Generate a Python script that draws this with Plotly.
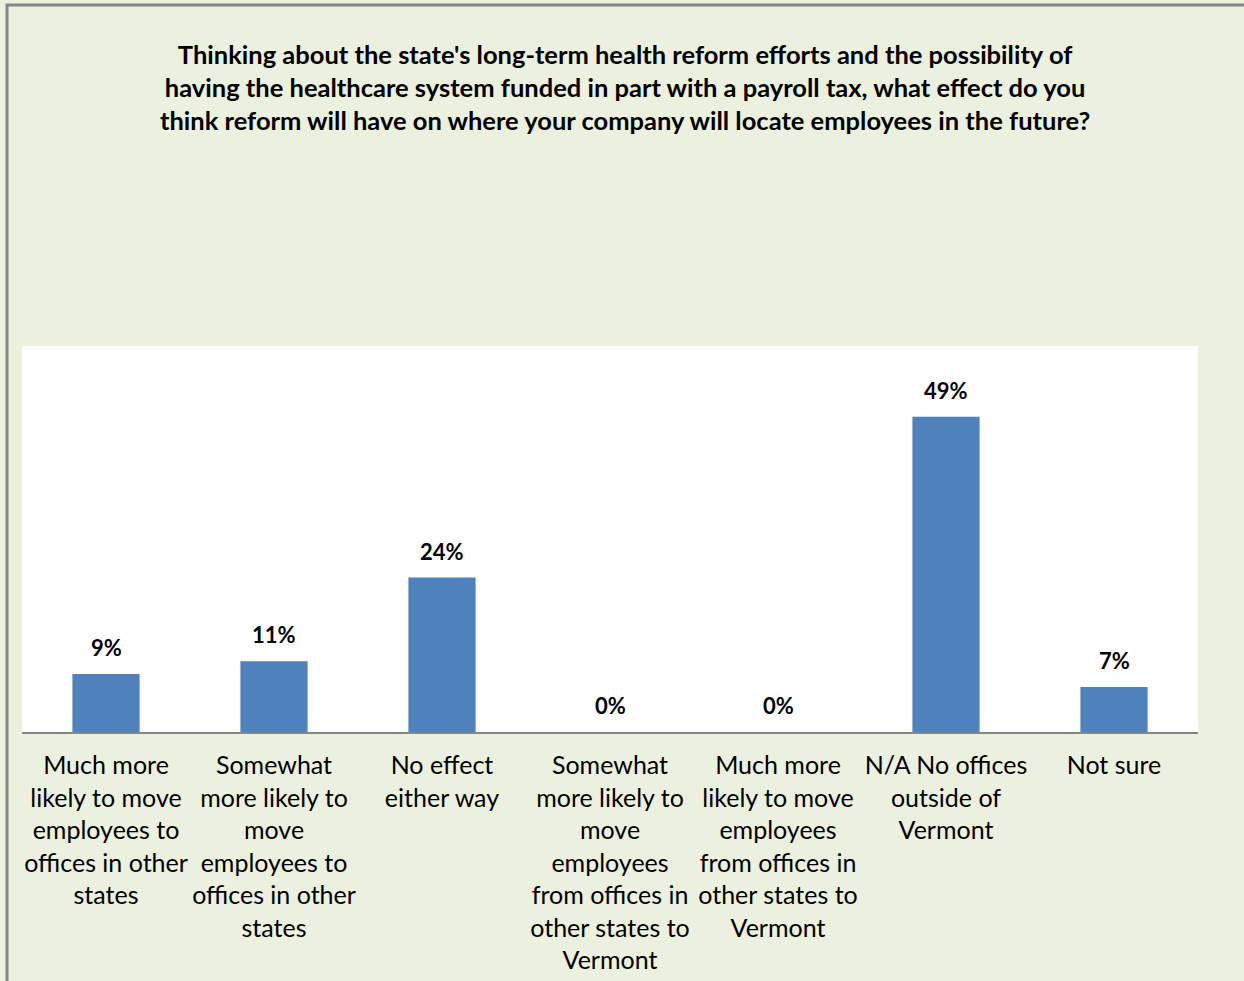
import plotly.graph_objects as go

# Survey responses
categories = [
    "Much more<br>likely to move<br>employees to<br>offices in other<br>states",
    "Somewhat<br>more likely to<br>move<br>employees to<br>offices in other<br>states",
    "No effect<br>either way",
    "Somewhat<br>more likely to<br>move<br>employees<br>from offices in<br>other states to<br>Vermont",
    "Much more<br>likely to move<br>employees<br>from offices in<br>other states to<br>Vermont",
    "N/A No offices<br>outside of<br>Vermont",
    "Not sure",
]
percent = [9, 11, 24, 0, 0, 49, 7]

title_text = (
    "Thinking about the state's long-term health reform efforts and the possibility of<br>"
    "having the healthcare system funded in part with a payroll tax, what effect do you<br>"
    "think reform will have on where your company will locate employees in the future?"
)

W, H = 1244, 981
L, R, T, B = 22, 1198, 346, 732

fig = go.Figure()
fig.add_trace(go.Bar(
    x=categories,
    y=percent,
    marker=dict(color="#4F81BD", line=dict(width=0)),
    width=0.4,
    hoverinfo="skip",
))

# value labels above each bar
for c, v in zip(categories, percent):
    fig.add_annotation(
        x=c, y=v, text=f"<b>{v}%</b>", showarrow=False,
        yanchor="bottom", yshift=11,
        font=dict(family="Lato", size=22, color="#000000"),
    )

pw = R - L
ph = B - T
# outer frame
fig.add_shape(
    type="rect", xref="paper", yref="paper",
    x0=(7 - L) / pw, x1=(1300 - L) / pw,
    y0=(B - 1100) / ph, y1=(B - 5) / ph,
    line=dict(color="#868686", width=3), fillcolor="rgba(0,0,0,0)",
    layer="below",
)

# chart title
fig.add_annotation(
    text=f"<b>{title_text}</b>", showarrow=False,
    xref="paper", yref="paper",
    x=(625 - L) / pw, xanchor="center",
    y=(B - 87) / ph, yanchor="middle",
    font=dict(family="Lato", size=25.5, color="#000000"),
)

fig.update_layout(
    width=W, height=H,
    margin=dict(l=L, r=W - R, t=T, b=H - B, pad=0, autoexpand=False),
    paper_bgcolor="#EBF1DE",
    plot_bgcolor="#FFFFFF",
    showlegend=False,
    bargap=0.6,
    font=dict(family="Lato", size=25, color="#000000"),
)
fig.update_xaxes(
    showline=True, linecolor="#868686", linewidth=2,
    showgrid=False, ticks="", tickangle=0, ticklabelstandoff=10,
    automargin=False,
    tickfont=dict(family="Lato", size=25, color="#000000"),
)
fig.update_yaxes(
    range=[0, 60], showgrid=False, showticklabels=False,
    zeroline=False, showline=False, automargin=False,
)

fig.write_html("out.html")
